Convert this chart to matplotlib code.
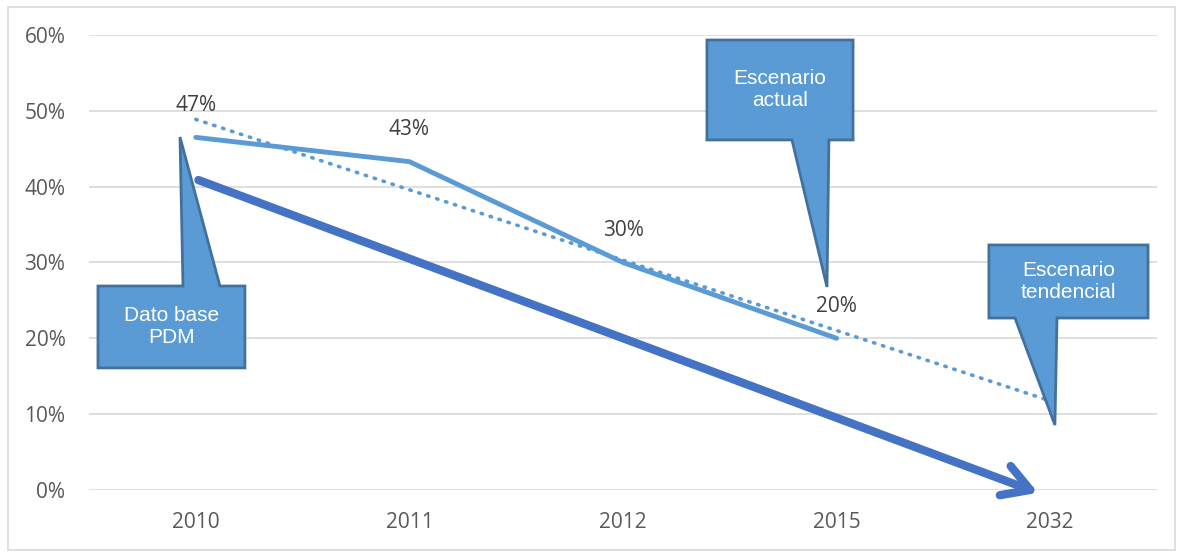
import numpy as np
import matplotlib
matplotlib.use("Agg")
import matplotlib.pyplot as plt
from matplotlib.patches import Polygon, Rectangle, FancyArrowPatch

# ---- data ----
categories = ["2010", "2011", "2012", "2015", "2032"]
actual_values = [0.465, 0.433, 0.30, 0.20]
actual_labels = ["47%", "43%", "30%", "20%"]
arrow_start = (0, 0.41)
arrow_end = (3.955, -0.005)
yticks = [0, 0.1, 0.2, 0.3, 0.4, 0.5, 0.6]
ytick_labels = ["0%", "10%", "20%", "30%", "40%", "50%", "60%"]

callout_texts = ["Dato base\nPDM", "Escenario\nactual", "Escenario\ntendencial"]
# box (x0, x1, y0, y1), pointer base (xa, xb), pointer tip (x, y) in data units
callout_boxes = [(-0.458, 0.230, 0.161, 0.269),
                 (2.393, 3.077, 0.4616, 0.5934),
                 (3.713, 4.458, 0.2268, 0.3231)]
callout_bases = [(-0.060, 0.113), (2.791, 2.964), (3.835, 4.032)]
callout_tips = [(-0.074, 0.4655), (2.955, 0.2677), (4.022, 0.0857)]

light = "#5B9BD5"
dark = "#4472C4"
grid = "#D9D9D9"
txt = "#595959"

fig = plt.figure(figsize=(11.83, 5.53), dpi=100)
ax = fig.add_axes([89/1183, 1-490/553, (1157-89)/1183, 455/553])
ax.set_xlim(-0.5, 4.5)
ax.set_ylim(0, 0.6)

# outer border
fig.patches.append(Rectangle((8/1183, 1-550/553), 1167/1183, 543/553,
                             transform=fig.transFigure, fill=False,
                             edgecolor=grid, linewidth=1.2))

for s in ax.spines.values():
    s.set_visible(False)
ax.set_yticks(yticks)
ax.set_yticklabels(ytick_labels)
ax.set_xticks(range(len(categories)))
ax.set_xticklabels(categories)
ax.tick_params(length=0, labelsize=15, labelcolor=txt)
ax.tick_params(axis="x", pad=16)
ax.tick_params(axis="y", pad=17)
for lab in ax.get_xticklabels() + ax.get_yticklabels():
    lab.set_family("Open Sans")
ax.grid(axis="y", color=grid, linewidth=1.2)
ax.set_axisbelow(True)

# actual series
xa = np.arange(len(actual_values))
ax.plot(xa, actual_values, color=light, linewidth=3.5, solid_capstyle="round", zorder=3)
for x, y, l in zip(xa, actual_values, actual_labels):
    ax.annotate(l, (x, y), xytext=(0, 23), textcoords="offset points",
                ha="center", va="center", fontsize=15, color="#404040",
                family="Open Sans")

# linear trendline extended to last category
coef = np.polyfit(xa, actual_values, 1)
xt = np.arange(len(categories))
ax.plot(xt, np.polyval(coef, xt), color=light, linewidth=2.6,
        linestyle=(0, (0.4, 2.2)), dash_capstyle="round", zorder=2)

# thick arrow
arr = FancyArrowPatch(arrow_start, arrow_end, arrowstyle="->,head_length=12,head_width=7",
                      mutation_scale=1.6, color=dark, linewidth=6,
                      capstyle="round", joinstyle="round", zorder=3, clip_on=False)
ax.add_patch(arr)

# callouts
for t, (x0, x1, y0, y1), (ba, bb), (tx, ty) in zip(callout_texts, callout_boxes,
                                                     callout_bases, callout_tips):
    if ty < y0:
        pts = [(x0, y0), (x0, y1), (x1, y1), (x1, y0), (bb, y0), (tx, ty), (ba, y0)]
    else:
        pts = [(x0, y0), (x0, y1), (ba, y1), (tx, ty), (bb, y1), (x1, y1), (x1, y0)]
    ax.add_patch(Polygon(pts, closed=True, facecolor=light, edgecolor="#41719C",
                         linewidth=2, joinstyle="miter", zorder=4))
    ax.text((x0 + x1) / 2, (y0 + y1) / 2, t, ha="center", va="center",
            fontsize=15, color="white", family="Liberation Sans",
            linespacing=1.2, zorder=5)

fig.savefig("out.png", dpi=100)
